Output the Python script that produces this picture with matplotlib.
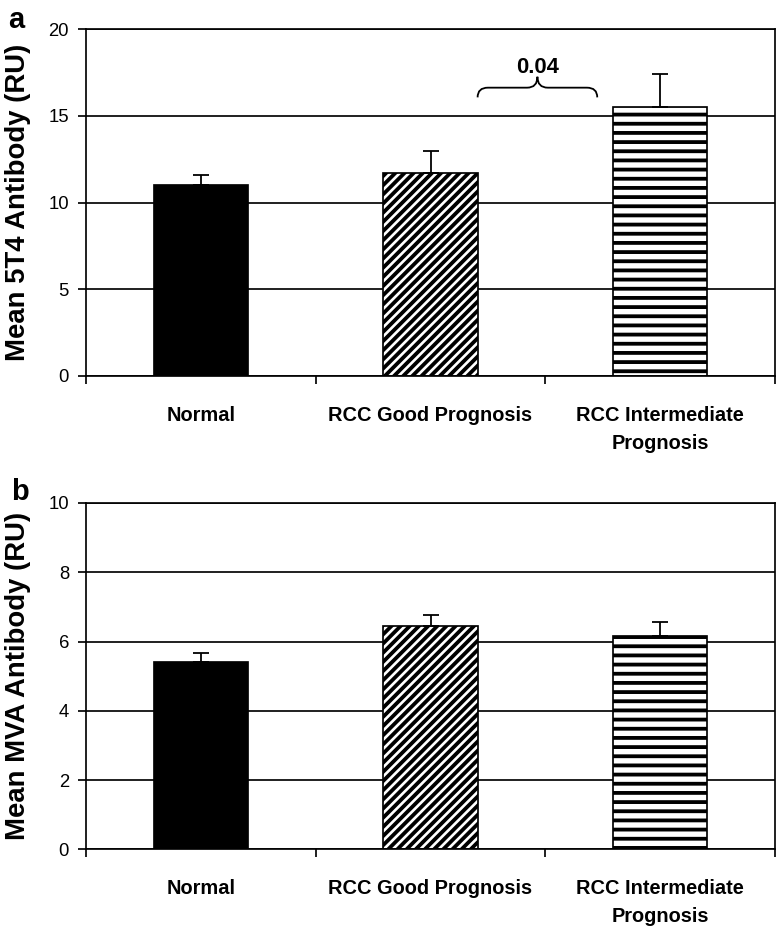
import matplotlib
matplotlib.use("Agg")
import matplotlib.pyplot as plt
import numpy as np
from matplotlib.path import Path
from matplotlib.patches import PathPatch

# data
categories = ["Normal", "RCC Good Prognosis", "RCC Intermediate\nPrognosis"]
t4_mean = [11.0, 11.7, 15.5]
t4_err = [0.6, 1.3, 1.9]
mva_mean = [5.4, 6.45, 6.15]
mva_err = [0.27, 0.32, 0.4]
p_value = "0.04"

DPI = 110
PX = 72 / DPI  # points per pixel, so sizes can be given in pixels

plt.rcParams['font.family'] = ['Liberation Sans', 'DejaVu Sans']
plt.rcParams['hatch.linewidth'] = 3.8 * PX
plt.rcParams['hatch.color'] = 'black'

fills = ['black', 'white', 'white']
hatches = [None, '////', '--']
LW = 1.7 * PX

fig = plt.figure(figsize=(779 / DPI, 927 / DPI), dpi=DPI)
ax_a = fig.add_axes([0.1104, 0.5947, 0.8845, 0.3737])
ax_b = fig.add_axes([0.1104, 0.0838, 0.8845, 0.3736])


def draw_panel(ax, means, errs, ymax, ystep, ylabel):
    x = np.arange(len(categories))
    bars = ax.bar(x, means, width=0.41, color=fills, edgecolor='black',
                  linewidth=LW, zorder=2)
    for b, h in zip(bars, hatches):
        if h:
            b.set_hatch(h)
    ax.errorbar(x, means, yerr=[np.zeros(len(errs)), errs], fmt='none',
                ecolor='black', elinewidth=1.8 * PX, capsize=8 * PX,
                capthick=1.8 * PX, zorder=3)
    ax.set_xlim(-0.5, len(categories) - 0.5)
    ax.set_ylim(0, ymax)
    ax.set_yticks(np.arange(0, ymax + 0.1, ystep))
    ax.yaxis.grid(True, color='black', linewidth=LW)
    ax.set_axisbelow(True)

    ax.set_xticks(x)
    ax.set_xticklabels(categories, fontsize=20 * PX, fontweight='bold',
                       linespacing=1.6)
    ax.set_xticks(np.arange(-0.5, len(categories)), minor=True)
    ax.tick_params(axis='x', which='major', length=0, pad=30 * PX)
    ax.tick_params(axis='x', which='minor', length=8 * PX, width=LW,
                   direction='out')
    ax.tick_params(axis='y', length=8 * PX, width=LW, direction='out',
                   labelsize=18.5 * PX, pad=9 * PX)
    for s in ax.spines.values():
        s.set_linewidth(LW)

    ax.set_ylabel(ylabel, fontsize=27.5 * PX, fontweight='bold')
    ax.yaxis.set_label_coords(-0.080, 0.5)


def brace(ax, x0, x1, ybot, ymid, ytop, r=0.045):
    xc = (x0 + x1) / 2
    verts = [(x0, ybot), (x0, ymid), (x0 + r, ymid),
             (xc - r, ymid), (xc, ymid), (xc, ytop),
             (xc, ymid), (xc + r, ymid),
             (x1 - r, ymid), (x1, ymid), (x1, ybot)]
    codes = [Path.MOVETO, Path.CURVE3, Path.CURVE3,
             Path.LINETO, Path.CURVE3, Path.CURVE3,
             Path.CURVE3, Path.CURVE3,
             Path.LINETO, Path.CURVE3, Path.CURVE3]
    ax.add_patch(PathPatch(Path(verts, codes), fill=False, lw=1.8 * PX,
                           edgecolor='black', zorder=4, clip_on=False))


draw_panel(ax_a, t4_mean, t4_err, 20, 5, "Mean 5T4 Antibody (RU)")
draw_panel(ax_b, mva_mean, mva_err, 10, 2, "Mean MVA Antibody (RU)")

brace(ax_a, 1.205, 1.726, 16.07, 16.63, 17.26)
ax_a.text(1.468, 17.49, p_value, ha='center', va='baseline',
          fontsize=22 * PX, fontweight='bold')

fig.text(8 / 779, 1 - 28 / 927, 'a', fontsize=29 * PX, fontweight='bold',
         ha='left', va='baseline')
fig.text(11 / 779, 1 - 500 / 927, 'b', fontsize=29 * PX, fontweight='bold',
         ha='left', va='baseline')

fig.savefig('out.png', dpi=DPI, facecolor='white')
